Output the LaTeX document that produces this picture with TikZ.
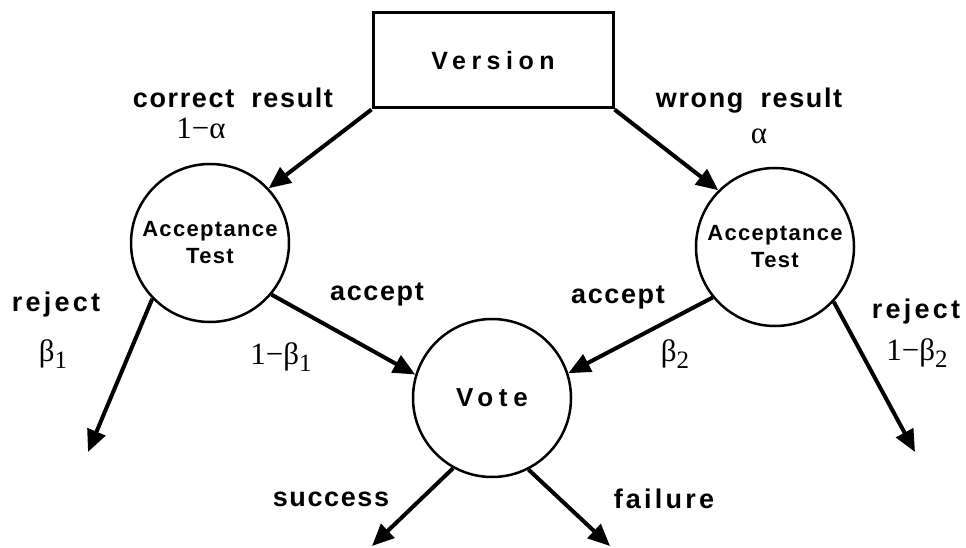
\documentclass[tikz,border=0pt]{standalone}
\usepackage{fontspec}
\setsansfont{Liberation Sans}
\newfontfamily\spacedsans{Liberation Sans}[LetterSpace=22]
\newfontfamily\loosesans{Liberation Sans}[LetterSpace=6]
\newfontfamily\greekserif{Liberation Serif}
\usetikzlibrary{positioning,arrows.meta}
\tikzstyle{box}=[draw,line width=3pt,minimum width=240pt,minimum height=95pt,
  font=\spacedsans\bfseries\fontsize{25}{25}\selectfont]
\tikzstyle{test}=[draw,circle,line width=2.5pt,minimum size=158pt,inner sep=0pt,
  align=center,font=\loosesans\bfseries\fontsize{22}{27}\selectfont]
\tikzstyle{vote}=[test,font=\spacedsans\bfseries\fontsize{26}{26}\selectfont]
\tikzstyle{lbl}=[font=\loosesans\bfseries\fontsize{27}{27}\selectfont]
\tikzstyle{prob}=[font=\greekserif\fontsize{31}{31}\selectfont]
\newcommand{\lowidx}[1]{\raisebox{-0.55ex}{\fontsize{25}{25}\selectfont #1}}
\newcommand{\newArrow}[2]{\draw[->] (#1) -- (#2);}

\begin{document}
\begin{tikzpicture}[x=1pt,y=-1pt,
      >={Triangle[length=22pt,width=19pt]},line width=4pt
      ]
      \useasboundingbox (0,0) rectangle (966,548);
      % nodes
      \node[box] (ver) at (493,60.5) {Version};
      \node[test] (at1) at (210,243) {Acceptance\\Test};
      \node[test] (at2) at (775,247) {Acceptance\\Test};
      \node[vote] (vote) at (492,398) {Vote};
      % free ends
      \coordinate (rej1) at (88,452);
      \coordinate (rej2) at (915,452);
      \coordinate (succ) at (372,546);
      \coordinate (fail) at (610,546);
      % arrows
      \newArrow{ver.south west}{at1.43}
      \newArrow{ver.south east}{at2.135}
      \newArrow{at1.224}{rej1}
      \newArrow{at1.-40}{vote.163}
      \newArrow{at2.219}{vote.18}
      \newArrow{at2.-43}{rej2}
      \newArrow{vote.241}{succ}
      \newArrow{vote.-63}{fail}
      % labels
      \node[lbl] (lcor) at (233,98) {correct\hspace{8pt} result};
      \node[prob] (pcor) at (201,128) {1−α};
      \node[lbl] (lwrong) at (749,101) {wrong\hspace{8pt} result};
      \node[prob] (pwrong) at (759,136) {α};
      \node[lbl] (lrej1) at (56,305) {\addfontfeature{LetterSpace=12}reject};
      \node[prob] (prej1) at (53,354) {β\lowidx{1}};
      \node[lbl] (lacc1) at (377,294) {accept};
      \node[prob] (pacc1) at (281,357) {1−β\lowidx{1}};
      \node[lbl] (lacc2) at (618,297) {accept};
      \node[prob] (pacc2) at (675,354) {β\lowidx{2}};
      \node[lbl] (lrej2) at (916,312) {\addfontfeature{LetterSpace=12}reject};
      \node[prob] (prej2) at (917,353) {1−β\lowidx{2}};
      \node[lbl] (lsucc) at (331,499) {success};
      \node[lbl] (lfail) at (664,499) {\addfontfeature{LetterSpace=12}failure};
    \end{tikzpicture}
\end{document}
